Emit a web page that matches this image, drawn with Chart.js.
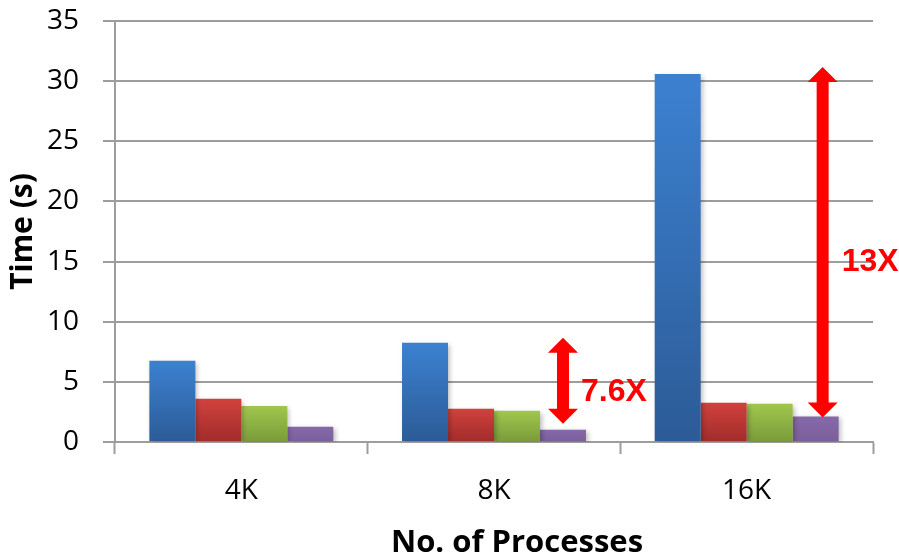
<!DOCTYPE html>
<html>
<head>
<meta charset="utf-8">
<script src="https://cdn.jsdelivr.net/npm/chart.js@4/dist/chart.umd.min.js"></script>
<style>
  html, body { margin: 0; padding: 0; background: #ffffff; }
  #wrap { width: 899px; height: 558px; position: relative; }
</style>
</head>
<body>
<div id="wrap"><canvas id="chart"></canvas></div>
<script>
// Run time per job size, four configurations
const categories = ['4K', '8K', '16K'];
const seriesBlue   = [6.75, 8.25, 30.6];
const seriesRed    = [3.6, 2.77, 3.26];
const seriesGreen  = [3.0, 2.6, 3.18];
const seriesPurple = [1.27, 1.02, 2.13];
const yTickValues  = [0, 5, 10, 15, 20, 25, 30, 35];
const speedupText  = ['', '7.6X', '13X'];

const xTitle = 'No. of Processes';
const yTitle = 'Time (s)';

const GRID = '#9d9d9d';

// vertical gradient per bar, light at the top, dark at the base
function barGradient(light, dark) {
  return function (ctx) {
    const chart = ctx.chart;
    const y = chart.scales.y;
    if (!chart.chartArea || !y || ctx.raw === undefined) return dark;
    const top = y.getPixelForValue(ctx.raw);
    const base = y.getPixelForValue(0);
    if (!isFinite(top) || !isFinite(base) || base - top < 1) return dark;
    const g = chart.ctx.createLinearGradient(0, top, 0, base);
    g.addColorStop(0, light);
    g.addColorStop(1, dark);
    return g;
  };
}

// soft drop shadow under the bars
const barShadow = {
  id: 'barShadow',
  beforeDatasetsDraw(chart) {
    const c = chart.ctx;
    c.save();
    c.shadowColor = 'rgba(0,0,0,0.28)';
    c.shadowBlur = 5;
    c.shadowOffsetX = 2;
    c.shadowOffsetY = 2;
  },
  afterDatasetsDraw(chart) {
    chart.ctx.restore();
  }
};

// double-headed arrows marking the speed-up between the blue and purple bars
const arrowStyle = {
  1: { dx: 0, topGap: 5, bottomGap: 6, labelDx: 18, labelDy: 20 },
  2: { dx: 7, topGap: 7, bottomGap: -1, labelDx: 19, labelDy: 29 }
};
const speedupArrows = {
  id: 'speedupArrows',
  afterDatasetsDraw(chart) {
    const c = chart.ctx;
    const y = chart.scales.y;
    const meta = chart.getDatasetMeta(3);
    c.save();
    c.fillStyle = '#ff0000';
    speedupText.forEach((txt, i) => {
      if (!txt) return;
      const st = arrowStyle[i];
      const bar = meta.data[i];
      const x = bar.x + st.dx;
      const yTop = y.getPixelForValue(seriesBlue[i]) - st.topGap;
      const yBot = y.getPixelForValue(seriesPurple[i]) - st.bottomGap;
      const headW = 15, headH = 15, shaft = 6;
      c.beginPath();
      c.moveTo(x, yTop);
      c.lineTo(x + headW, yTop + headH);
      c.lineTo(x + shaft, yTop + headH);
      c.lineTo(x + shaft, yBot - headH);
      c.lineTo(x + headW, yBot - headH);
      c.lineTo(x, yBot);
      c.lineTo(x - headW, yBot - headH);
      c.lineTo(x - shaft, yBot - headH);
      c.lineTo(x - shaft, yTop + headH);
      c.lineTo(x - headW, yTop + headH);
      c.closePath();
      c.fill();
      c.font = 'bold 32px "Liberation Sans", Arial, sans-serif';
      c.textAlign = 'left';
      c.textBaseline = 'alphabetic';
      c.fillText(txt, x + st.labelDx, (yTop + yBot) / 2 + st.labelDy);
    });
    c.restore();
  }
};

// x axis title, set a little right of the plot centre
const xAxisTitle = {
  id: 'xAxisTitle',
  afterDraw(chart) {
    const c = chart.ctx;
    const a = chart.chartArea;
    c.save();
    c.fillStyle = '#000000';
    c.font = 'bold 31px "Open Sans", sans-serif';
    c.textAlign = 'center';
    c.textBaseline = 'alphabetic';
    c.fillText(xTitle, (a.left + a.right) / 2 + 23, 552);
    c.restore();
  }
};

new Chart(document.getElementById('chart'), {
  type: 'bar',
  data: {
    labels: categories,
    datasets: [
      { label: 'Series 1', data: seriesBlue,   backgroundColor: barGradient('#3c81d1', '#2c5b97') },
      { label: 'Series 2', data: seriesRed,    backgroundColor: barGradient('#d1413d', '#a02c2a') },
      { label: 'Series 3', data: seriesGreen,  backgroundColor: barGradient('#a0c74d', '#799b3a') },
      { label: 'Series 4', data: seriesPurple, backgroundColor: barGradient('#8669a9', '#7b5e9b') }
    ]
  },
  options: {
    responsive: true,
    maintainAspectRatio: false,
    animation: false,
    layout: { padding: { top: 21, right: 26, left: 0, bottom: 0 } },
    datasets: {
      bar: { categoryPercentage: 0.728, barPercentage: 1.0, borderWidth: 0 }
    },
    plugins: {
      legend: { display: false },
      tooltip: { enabled: false }
    },
    scales: {
      x: {
        afterFit(scale) { scale.height = 116; },
        grid: {
          display: true,
          drawOnChartArea: false,
          drawTicks: true,
          tickLength: 12,
          tickWidth: 2,
          tickColor: GRID,
          offset: true
        },
        border: { display: true, color: GRID, width: 2 },
        ticks: {
          color: '#000000',
          padding: 20,
          font: { family: '"Open Sans", sans-serif', size: 28 }
        }
      },
      y: {
        min: 0,
        max: 35,
        afterFit(scale) {
          scale.width = 115;
          scale.paddingTop = 0;
          scale.paddingBottom = 0;
        },
        afterBuildTicks(scale) { scale.ticks = yTickValues.map(v => ({ value: v })); },
        grid: {
          color: GRID,
          lineWidth: 2,
          drawTicks: true,
          tickLength: 12,
          tickWidth: 2,
          tickColor: GRID
        },
        border: { display: true, color: GRID, width: 2 },
        ticks: {
          color: '#000000',
          padding: 24,
          font: { family: '"Open Sans", sans-serif', size: 28 }
        },
        title: {
          display: true,
          text: yTitle,
          color: '#000000',
          padding: { top: 5, bottom: 0 },
          font: { family: '"Open Sans", sans-serif', size: 30, weight: 'bold' }
        }
      }
    }
  },
  plugins: [barShadow, speedupArrows, xAxisTitle]
});
</script>
</body>
</html>
